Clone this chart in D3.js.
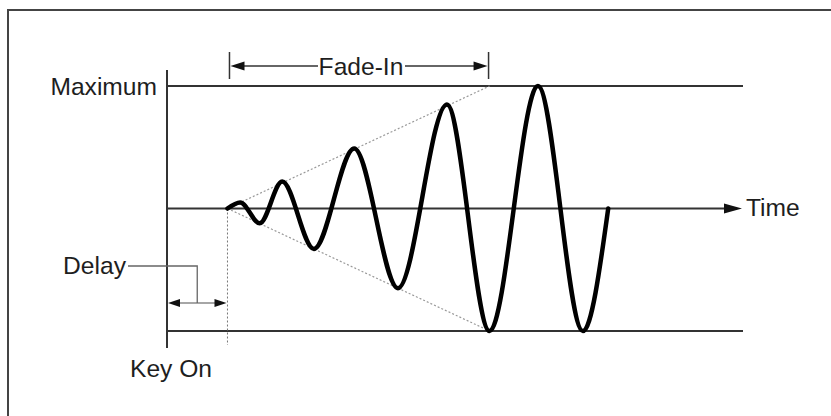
<!DOCTYPE html>
<html>
<head>
<meta charset="utf-8">
<script src="https://cdn.jsdelivr.net/npm/d3@7"></script>
<style>
  body { margin: 0; background: #fff; }
  text { font-family: "Liberation Sans", Arial, sans-serif; font-size: 24.6px; fill: #1e1e1e; }
</style>
</head>
<body>
<svg></svg>
<script>
const width = 831;
const height = 416;

// time units: Key On = 0, right end of the level lines = 100
const delayEnd = 10.5;
const fadeInEnd = 56;
const timeMax = 100;

// wave turning points (time, relative level -1..1)
const waveTime = [10.5, 12.7, 16.1, 20.0, 25.5, 32.5, 40.1, 48.6, 56.0, 64.4, 72.2, 76.6];
const waveLevel = [0, 0.05, -0.12, 0.22, -0.33, 0.49, -0.65, 0.85, -1, 1, -1, 0];

const labels = { max: "Maximum", time: "Time", fade: "Fade-In", delay: "Delay", keyOn: "Key On" };

const svg = d3.select("svg").attr("width", width).attr("height", height);

const x = d3.scaleLinear().domain([0, timeMax]).range([167, 743]);
const y = d3.scaleLinear().domain([-1, 1]).range([331, 86]);

const ink = "#333";

// outer frame (runs off the right and bottom edge)
svg.append("rect")
    .attr("x", 8).attr("y", 10)
    .attr("width", width + 20).attr("height", height + 20)
    .attr("fill", "none").attr("stroke", "#444").attr("stroke-width", 2);

function arrowHead(g, tipX, tipY, dir, len, half) {
    // dir = 1 points right, -1 points left
    g.append("path")
        .attr("d", `M${tipX},${tipY} L${tipX - dir * len},${tipY - half} L${tipX - dir * len},${tipY + half} Z`)
        .attr("fill", "#111");
}

// vertical axis at Key On
svg.append("line")
    .attr("x1", x(0)).attr("x2", x(0))
    .attr("y1", 70).attr("y2", 348)
    .attr("stroke", ink).attr("stroke-width", 2);

// maximum and minimum lines
[1, -1].forEach(v => {
    svg.append("line")
        .attr("x1", x(0)).attr("x2", x(timeMax))
        .attr("y1", y(v)).attr("y2", y(v))
        .attr("stroke", ink).attr("stroke-width", 2);
});

// time axis with arrow
svg.append("line")
    .attr("x1", x(0)).attr("x2", x(timeMax) - 12)
    .attr("y1", y(0)).attr("y2", y(0))
    .attr("stroke", ink).attr("stroke-width", 2);
arrowHead(svg, x(timeMax) - 1, y(0), 1, 18, 5);

// envelope (dotted)
[1, -1].forEach(v => {
    svg.append("line")
        .attr("x1", x(delayEnd)).attr("y1", y(0))
        .attr("x2", x(fadeInEnd)).attr("y2", y(v))
        .attr("stroke", "#999").attr("stroke-width", 1.2)
        .attr("stroke-dasharray", "2,2");
});

// dotted marker at end of delay
svg.append("line")
    .attr("x1", x(delayEnd)).attr("x2", x(delayEnd))
    .attr("y1", y(0)).attr("y2", 345)
    .attr("stroke", "#777").attr("stroke-width", 1)
    .attr("stroke-dasharray", "2,2");

// the wave
const pts = waveTime.map((t, i) => [t, waveLevel[i]]);
svg.append("path")
    .datum(pts)
    .attr("d", d3.line().x(d => x(d[0])).y(d => y(d[1])).curve(d3.curveMonotoneX))
    .attr("fill", "none")
    .attr("stroke", "#000")
    .attr("stroke-width", 4.5)
    .attr("stroke-linecap", "round");

// Fade-In bracket
const fadeY = 66;
const fx0 = x(delayEnd) + 2, fx1 = x(fadeInEnd) - 1;
[fx0, fx1].forEach(fx => {
    svg.append("line")
        .attr("x1", fx).attr("x2", fx)
        .attr("y1", 52).attr("y2", 79)
        .attr("stroke", ink).attr("stroke-width", 1.5);
});
svg.append("line").attr("x1", fx0 + 10).attr("x2", 318)
    .attr("y1", fadeY).attr("y2", fadeY).attr("stroke", ink).attr("stroke-width", 1.5);
svg.append("line").attr("x1", 405).attr("x2", fx1 - 10)
    .attr("y1", fadeY).attr("y2", fadeY).attr("stroke", ink).attr("stroke-width", 1.5);
arrowHead(svg, fx0 + 1, fadeY, -1, 14, 4.5);
arrowHead(svg, fx1 - 1, fadeY, 1, 14, 4.5);
svg.append("text").attr("x", 361).attr("y", fadeY + 9)
    .attr("text-anchor", "middle").text(labels.fade);

// Delay marker
const delayY = 303;
const delayMid = x(delayEnd / 2);
svg.append("line").attr("x1", x(0) + 8).attr("x2", x(delayEnd) - 8)
    .attr("y1", delayY).attr("y2", delayY).attr("stroke", "#888").attr("stroke-width", 1.5);
arrowHead(svg, x(0) + 1, delayY, -1, 12, 4);
arrowHead(svg, x(delayEnd) - 1, delayY, 1, 12, 4);
svg.append("path")
    .attr("d", `M128,266 H${delayMid} V${delayY}`)
    .attr("fill", "none").attr("stroke", "#666").attr("stroke-width", 1.3);
svg.append("text").attr("x", 126).attr("y", 274)
    .attr("text-anchor", "end").text(labels.delay);

// axis labels
svg.append("text").attr("x", 157).attr("y", y(1) + 9)
    .attr("text-anchor", "end").text(labels.max);
svg.append("text").attr("x", 746).attr("y", y(0) + 7)
    .text(labels.time);
svg.append("text").attr("x", 171).attr("y", 377)
    .attr("text-anchor", "middle").text(labels.keyOn);
</script>
</body>
</html>
